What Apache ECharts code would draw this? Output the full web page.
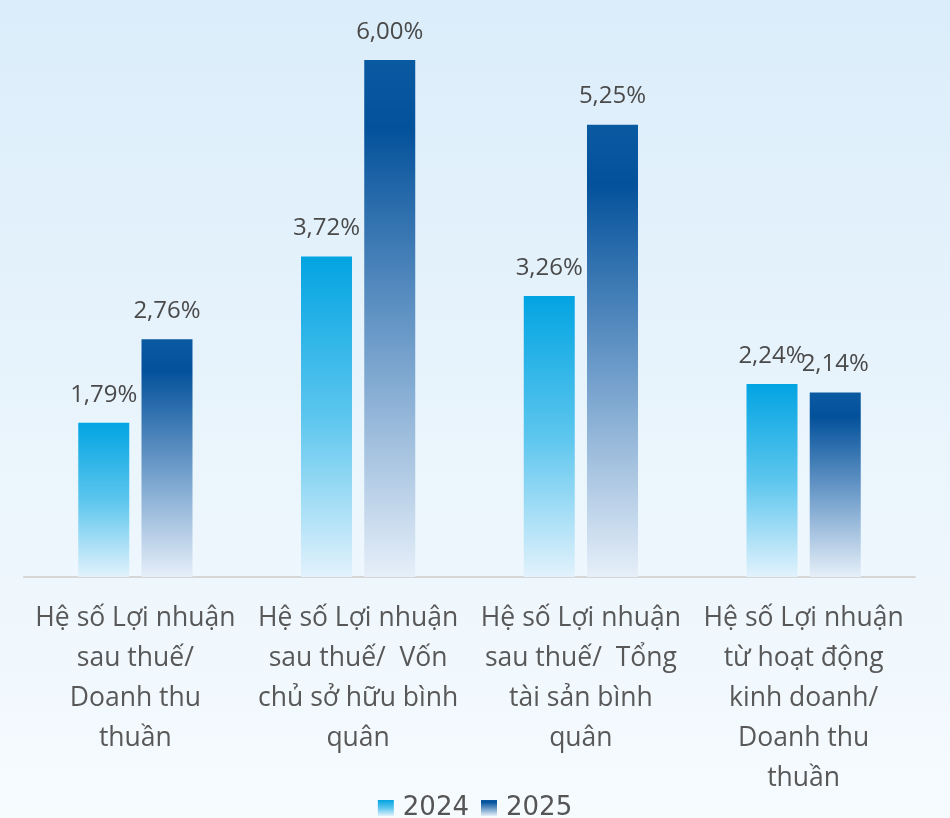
<!DOCTYPE html>
<html>
<head>
<meta charset="utf-8">
<script src="https://cdn.jsdelivr.net/npm/echarts@6/dist/echarts.min.js"></script>
<style>
html,body{margin:0;padding:0;}
#chart{width:950px;height:818px;}
</style>
</head>
<body>
<div id="chart"></div>
<script>
var categories = [
  "Hệ số Lợi nhuận\nsau thuế/\nDoanh thu\nthuần",
  "Hệ số Lợi nhuận\nsau thuế/  Vốn\nchủ sở hữu bình\nquân",
  "Hệ số Lợi nhuận\nsau thuế/  Tổng\ntài sản bình\nquân",
  "Hệ số Lợi nhuận\ntừ hoạt động\nkinh doanh/\nDoanh thu\nthuần"
];
var seriesNames = ["2024", "2025"];
var values2024 = [1.79, 3.72, 3.26, 2.24];
var values2025 = [2.76, 6.00, 5.25, 2.14];

function grad(stops) {
  return new echarts.graphic.LinearGradient(0, 0, 0, 1, stops);
}
var color2024 = grad([{offset:0,color:'#02a4e2'},{offset:0.5,color:'#5cc6ee'},{offset:1,color:'#e2f2fc'}]);
var color2025 = grad([{offset:0,color:'#0a5aa2'},{offset:0.13,color:'#03519b'},{offset:0.55,color:'#6f9dca'},{offset:1,color:'#e6eff9'}]);

function fmt(p) { return p.value.toFixed(2).replace('.', ',') + '%'; }

var labelStyle = {
  show: true, position: 'top', distance: 16,
  fontFamily: 'Open Sans', fontSize: 24, color: '#4a4a4a',
  formatter: fmt
};

var chart = echarts.init(document.getElementById('chart'));
chart.setOption({
  backgroundColor: grad([{offset:0,color:'#dbedfa'},{offset:1,color:'#f6fbfe'}]),
  animation: false,
  grid: { left: 24, right: 35, top: 60, bottom: 241, containLabel: false },
  legend: {
    data: seriesNames,
    top: 790,
    left: 'center',
    itemWidth: 16, itemHeight: 16, itemGap: 12,
    icon: 'rect',
    textStyle: { fontFamily: 'DejaVu Sans', fontSize: 26, color: '#555555', padding: [0,0,0,4] }
  },
  xAxis: {
    type: 'category',
    data: categories,
    axisLine: { show: true, lineStyle: { color: '#d6d6d6', width: 2 } },
    axisTick: { show: false },
    axisLabel: {
      interval: 0, margin: 21,
      fontFamily: 'Open Sans', fontSize: 26.5, lineHeight: 40, color: '#585858'
    }
  },
  yAxis: {
    type: 'value', min: 0, max: 6,
    show: false,
    splitLine: { show: false }
  },
  series: [
    { name: seriesNames[0], type: 'bar', data: values2024, barWidth: 51, barGap: '24%',
      itemStyle: { color: color2024 }, label: labelStyle },
    { name: seriesNames[1], type: 'bar', data: values2025, barWidth: 51,
      itemStyle: { color: color2025 }, label: labelStyle }
  ]
});
</script>
</body>
</html>
